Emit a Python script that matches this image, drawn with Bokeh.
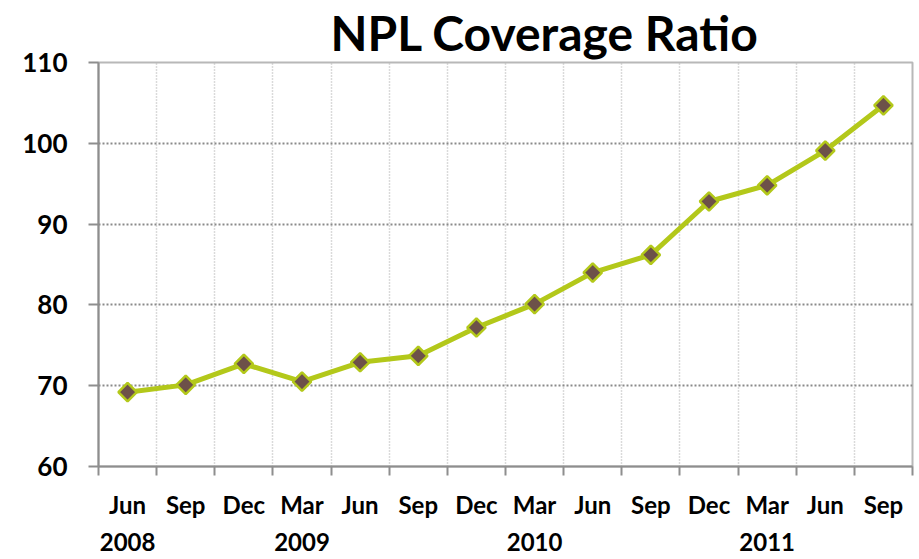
import math
from bokeh.plotting import figure
from bokeh.models import FixedTicker, LinearAxis, Range1d
from bokeh.embed import file_html
from bokeh.resources import INLINE

months = ["Jun", "Sep", "Dec", "Mar", "Jun", "Sep", "Dec", "Mar", "Jun", "Sep", "Dec", "Mar", "Jun", "Sep"]
coverage = [69.2, 70.1, 72.7, 70.5, 72.9, 73.7, 77.2, 80.1, 84.0, 86.2, 92.8, 94.8, 99.1, 104.7]
years = ["2008", "2009", "2010", "2011"]
year_index = [0, 3, 7, 11]
y_ticks = [60, 70, 80, 90, 100, 110]

FONT = "Lato"
LINE_GREEN = "#B3C81A"
MARKER_FILL = "#6D5149"
AXIS_GRAY = "#8E8E8E"

x = list(range(len(months)))
bounds = [i - 0.5 for i in range(len(months) + 1)]

p = figure(width=915, height=558, output_backend="svg", toolbar_location=None,
           x_range=Range1d(-0.5, len(months) - 0.5), y_range=Range1d(60, 110),
           min_border_left=98, min_border_right=3, min_border_top=62, min_border_bottom=92,
           title="NPL Coverage Ratio")
p.background_fill_color = "white"
p.border_fill_color = "white"
p.outline_line_color = "#B8B8B8"
p.outline_line_width = 2

p.title.text_font = FONT
p.title.text_font_style = "bold"
p.title.text_font_size = "48px"
p.title.text_color = "black"
p.title.align = "left"
p.title.vertical_align = "top"
p.title.offset = 232
p.title.standoff = 0

# y axis
p.yaxis.ticker = FixedTicker(ticks=y_ticks)
p.yaxis.axis_line_color = AXIS_GRAY
p.yaxis.axis_line_width = 2
p.yaxis.major_tick_line_color = AXIS_GRAY
p.yaxis.major_tick_line_width = 2
p.yaxis.major_tick_out = 10
p.yaxis.major_tick_in = 0
p.yaxis.minor_tick_line_color = None
p.yaxis.major_label_standoff = 21
p.yaxis.major_label_text_font = FONT
p.yaxis.major_label_text_font_style = "bold"
p.yaxis.major_label_text_font_size = "26px"
p.yaxis.major_label_text_color = "black"

# x axis: months at centers, tick marks at boundaries (minor ticks)
xax = p.xaxis[0]
xax.ticker = FixedTicker(ticks=x, minor_ticks=bounds)
xax.major_label_overrides = {i: m for i, m in zip(x, months)}
xax.axis_line_color = AXIS_GRAY
xax.axis_line_width = 2
xax.major_tick_line_color = None
xax.major_tick_out = 0
xax.major_tick_in = 0
xax.minor_tick_line_color = AXIS_GRAY
xax.minor_tick_line_width = 2
xax.minor_tick_out = 9
xax.minor_tick_in = 0
xax.major_label_standoff = 14
xax.major_label_text_font = FONT
xax.major_label_text_font_style = "bold"
xax.major_label_text_font_size = "24px"
xax.major_label_text_color = "black"

# year axis
yr = LinearAxis(ticker=FixedTicker(ticks=year_index),
                major_label_overrides={i: y for i, y in zip(year_index, years)})
yr.axis_line_color = None
yr.major_tick_line_color = None
yr.minor_tick_line_color = None
yr.major_tick_out = 0
yr.major_tick_in = 0
yr.major_label_standoff = 11
yr.major_label_text_font = FONT
yr.major_label_text_font_style = "bold"
yr.major_label_text_font_size = "24px"
yr.major_label_text_color = "black"
p.add_layout(yr, "below")

# grids
p.xgrid.ticker = FixedTicker(ticks=bounds)
p.xgrid.grid_line_color = "#B5B5B5"
p.xgrid.grid_line_dash = "1 2"
p.xgrid.grid_line_width = 1.5
p.ygrid.grid_line_color = "#8A8A8A"
p.ygrid.grid_line_dash = "2 2"
p.ygrid.grid_line_width = 2

p.line(x, coverage, line_color=LINE_GREEN, line_width=5)
p.scatter(x, coverage, marker="square", size=13, angle=math.pi / 4,
          fill_color=MARKER_FILL, line_color=LINE_GREEN, line_width=2.5)

open("out.html", "w").write(file_html(p, INLINE))
